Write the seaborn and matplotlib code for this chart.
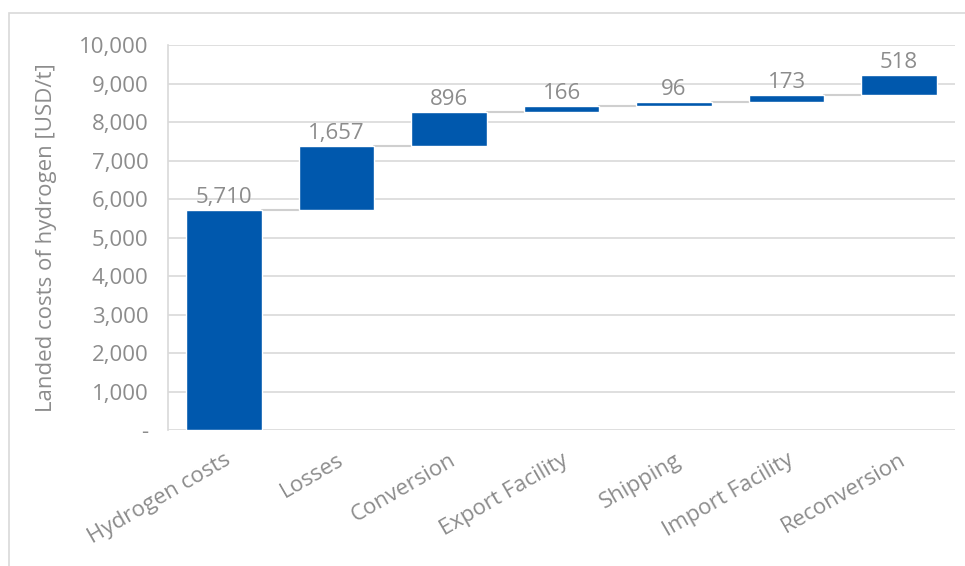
import numpy as np
import seaborn as sns
import matplotlib.pyplot as plt
from matplotlib.ticker import FuncFormatter
from matplotlib.patches import Rectangle

# data
categories = ['Hydrogen costs', 'Losses', 'Conversion', 'Export Facility',
              'Shipping', 'Import Facility', 'Reconversion']
values = [5710, 1657, 896, 166, 96, 173, 518]

tops = np.cumsum(values)
bases = tops - np.array(values)

sns.set_style('white')
plt.rcParams['font.family'] = ['Open Sans', 'DejaVu Sans']
grey = '#8c8c8c'

fig = plt.figure(figsize=(9.65, 5.66), dpi=100)
ax = fig.add_axes([0.174, 0.24, 0.816, 0.6805])

sns.barplot(x=categories, y=values, bottom=bases, color='#0058ad',
            saturation=1, width=0.67, ax=ax, zorder=3)

# connectors
w = 0.67
for i in range(len(values) - 1):
    ax.plot([i + w / 2, i + 1 - w / 2], [tops[i], tops[i]],
            color='#cfcfcf', lw=1.5, zorder=2)

# value labels
for i, v in enumerate(values):
    ax.text(i, tops[i] + 50, f'{v:,}', ha='center', va='bottom',
            color=grey, fontsize=16)

ax.set_xlim(-0.5, len(values) - 0.5)
ax.set_ylim(0, 10000)
ax.set_yticks(range(0, 10001, 1000))
ax.yaxis.set_major_formatter(FuncFormatter(lambda y, p: '-' if y == 0 else f'{int(y):,}'))
ax.grid(axis='y', color='#d9d9d9', lw=1.2, zorder=0)
ax.set_axisbelow(True)

for s in ['top', 'right', 'bottom']:
    ax.spines[s].set_visible(False)
ax.spines['left'].set_color('#d9d9d9')
ax.spines['left'].set_linewidth(1.2)

ax.tick_params(axis='y', colors=grey, labelsize=16, length=0, pad=14)
ax.tick_params(axis='x', colors=grey, labelsize=16, length=0, pad=14)
plt.setp(ax.get_xticklabels(), rotation=30, ha='right', rotation_mode='anchor')

ax.set_ylabel('Landed costs of hydrogen [USD/t]', color=grey, fontsize=16, labelpad=16)
ax.set_xlabel('')

# outer frame
fig.patches.append(Rectangle((9 / 965, -0.05), 1.2, 1 - 13 / 566 + 0.05,
                             transform=fig.transFigure, fill=False,
                             edgecolor='#d9d9d9', lw=1.2))

plt.savefig('out.png', dpi=100)
